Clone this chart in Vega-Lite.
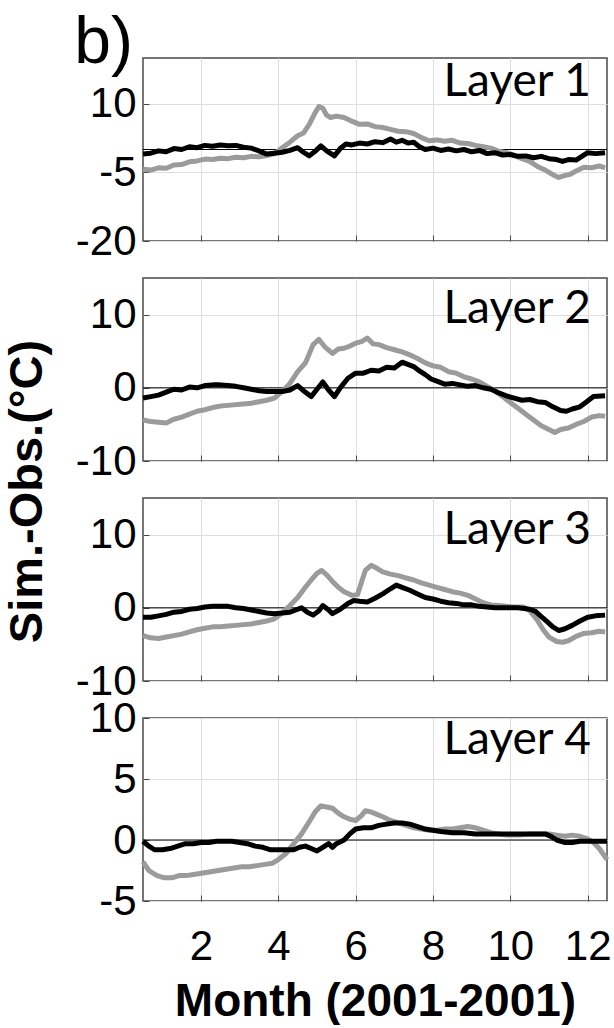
{
  "$schema": "https://vega.github.io/schema/vega-lite/v6.json",
  "padding": {"left": 2, "top": 10, "right": 0, "bottom": 0},
  "background": "white",
  "bounds": "flush",
  "title": {"text": "b)", "anchor": "start", "frame": "bounds", "font": "Liberation Sans", "fontSize": 66, "fontWeight": "normal", "color": "#000", "baseline": "alphabetic", "offset": -68, "dx": 72, "dy": 4},
  "datasets": {
    "d": [
      {"layer":1,"series":"black","month":0.5,"value":-1.0},{"layer":1,"series":"black","month":0.7,"value":-0.8},{"layer":1,"series":"black","month":0.9,"value":-0.3},{"layer":1,"series":"black","month":1.1,"value":-0.5},{"layer":1,"series":"black","month":1.3,"value":0.2},{"layer":1,"series":"black","month":1.5,"value":0.0},{"layer":1,"series":"black","month":1.7,"value":0.6},{"layer":1,"series":"black","month":1.9,"value":0.4},{"layer":1,"series":"black","month":2.1,"value":0.9},{"layer":1,"series":"black","month":2.3,"value":0.7},{"layer":1,"series":"black","month":2.5,"value":1.0},{"layer":1,"series":"black","month":2.7,"value":0.8},{"layer":1,"series":"black","month":2.9,"value":0.9},{"layer":1,"series":"black","month":3.1,"value":0.5},{"layer":1,"series":"black","month":3.3,"value":0.3},{"layer":1,"series":"black","month":3.5,"value":-0.3},{"layer":1,"series":"black","month":3.7,"value":-1.0},{"layer":1,"series":"black","month":3.9,"value":-0.8},{"layer":1,"series":"black","month":4.1,"value":-0.6},{"layer":1,"series":"black","month":4.3,"value":-0.2},{"layer":1,"series":"black","month":4.5,"value":0.4},{"layer":1,"series":"black","month":4.65,"value":-0.6},{"layer":1,"series":"black","month":4.8,"value":-1.4},{"layer":1,"series":"black","month":4.95,"value":-0.4},{"layer":1,"series":"black","month":5.1,"value":0.8},{"layer":1,"series":"black","month":5.25,"value":-0.3},{"layer":1,"series":"black","month":5.45,"value":-1.4},{"layer":1,"series":"black","month":5.6,"value":0.2},{"layer":1,"series":"black","month":5.75,"value":1.2},{"layer":1,"series":"black","month":5.9,"value":1.0},{"layer":1,"series":"black","month":6.1,"value":1.4},{"layer":1,"series":"black","month":6.3,"value":1.2},{"layer":1,"series":"black","month":6.5,"value":1.7},{"layer":1,"series":"black","month":6.7,"value":1.5},{"layer":1,"series":"black","month":6.9,"value":2.3},{"layer":1,"series":"black","month":7.05,"value":1.6},{"layer":1,"series":"black","month":7.2,"value":2.0},{"layer":1,"series":"black","month":7.35,"value":1.4},{"layer":1,"series":"black","month":7.5,"value":1.6},{"layer":1,"series":"black","month":7.65,"value":0.6},{"layer":1,"series":"black","month":7.8,"value":0.0},{"layer":1,"series":"black","month":8.0,"value":0.3},{"layer":1,"series":"black","month":8.2,"value":-0.2},{"layer":1,"series":"black","month":8.4,"value":0.1},{"layer":1,"series":"black","month":8.6,"value":-0.3},{"layer":1,"series":"black","month":8.8,"value":0.0},{"layer":1,"series":"black","month":9.0,"value":-0.5},{"layer":1,"series":"black","month":9.2,"value":-0.2},{"layer":1,"series":"black","month":9.4,"value":-0.9},{"layer":1,"series":"black","month":9.6,"value":-0.7},{"layer":1,"series":"black","month":9.8,"value":-1.2},{"layer":1,"series":"black","month":10.0,"value":-1.1},{"layer":1,"series":"black","month":10.2,"value":-1.5},{"layer":1,"series":"black","month":10.4,"value":-1.4},{"layer":1,"series":"black","month":10.6,"value":-1.8},{"layer":1,"series":"black","month":10.8,"value":-1.5},{"layer":1,"series":"black","month":11.0,"value":-2.0},{"layer":1,"series":"black","month":11.2,"value":-2.2},{"layer":1,"series":"black","month":11.35,"value":-2.6},{"layer":1,"series":"black","month":11.5,"value":-2.2},{"layer":1,"series":"black","month":11.7,"value":-2.3},{"layer":1,"series":"black","month":11.85,"value":-1.5},{"layer":1,"series":"black","month":12.0,"value":-0.7},{"layer":1,"series":"black","month":12.2,"value":-0.9},{"layer":1,"series":"black","month":12.45,"value":-0.7},
      {"layer":1,"series":"gray","month":0.5,"value":-4.3},{"layer":1,"series":"gray","month":0.7,"value":-4.5},{"layer":1,"series":"gray","month":0.9,"value":-4.0},{"layer":1,"series":"gray","month":1.1,"value":-4.1},{"layer":1,"series":"gray","month":1.3,"value":-3.4},{"layer":1,"series":"gray","month":1.5,"value":-3.3},{"layer":1,"series":"gray","month":1.7,"value":-2.7},{"layer":1,"series":"gray","month":1.9,"value":-2.5},{"layer":1,"series":"gray","month":2.1,"value":-2.1},{"layer":1,"series":"gray","month":2.3,"value":-2.2},{"layer":1,"series":"gray","month":2.5,"value":-1.9},{"layer":1,"series":"gray","month":2.7,"value":-2.0},{"layer":1,"series":"gray","month":2.9,"value":-1.7},{"layer":1,"series":"gray","month":3.1,"value":-1.8},{"layer":1,"series":"gray","month":3.3,"value":-1.5},{"layer":1,"series":"gray","month":3.5,"value":-1.6},{"layer":1,"series":"gray","month":3.7,"value":-1.3},{"layer":1,"series":"gray","month":3.9,"value":-0.9},{"layer":1,"series":"gray","month":4.1,"value":0.4},{"layer":1,"series":"gray","month":4.3,"value":1.6},{"layer":1,"series":"gray","month":4.5,"value":3.0},{"layer":1,"series":"gray","month":4.65,"value":3.6},{"layer":1,"series":"gray","month":4.8,"value":5.5},{"layer":1,"series":"gray","month":4.95,"value":8.0},{"layer":1,"series":"gray","month":5.05,"value":9.4},{"layer":1,"series":"gray","month":5.15,"value":9.0},{"layer":1,"series":"gray","month":5.25,"value":7.5},{"layer":1,"series":"gray","month":5.35,"value":7.0},{"layer":1,"series":"gray","month":5.5,"value":7.3},{"layer":1,"series":"gray","month":5.7,"value":7.0},{"layer":1,"series":"gray","month":5.9,"value":6.2},{"layer":1,"series":"gray","month":6.1,"value":5.5},{"layer":1,"series":"gray","month":6.3,"value":5.6},{"layer":1,"series":"gray","month":6.5,"value":5.0},{"layer":1,"series":"gray","month":6.7,"value":4.8},{"layer":1,"series":"gray","month":6.9,"value":4.4},{"layer":1,"series":"gray","month":7.1,"value":4.0},{"layer":1,"series":"gray","month":7.3,"value":3.9},{"layer":1,"series":"gray","month":7.5,"value":3.5},{"layer":1,"series":"gray","month":7.7,"value":2.6},{"layer":1,"series":"gray","month":7.9,"value":1.9},{"layer":1,"series":"gray","month":8.1,"value":2.1},{"layer":1,"series":"gray","month":8.3,"value":1.8},{"layer":1,"series":"gray","month":8.5,"value":2.0},{"layer":1,"series":"gray","month":8.7,"value":1.4},{"layer":1,"series":"gray","month":8.9,"value":1.3},{"layer":1,"series":"gray","month":9.1,"value":0.9},{"layer":1,"series":"gray","month":9.3,"value":0.6},{"layer":1,"series":"gray","month":9.5,"value":0.3},{"layer":1,"series":"gray","month":9.7,"value":-0.4},{"layer":1,"series":"gray","month":9.9,"value":-0.7},{"layer":1,"series":"gray","month":10.1,"value":-1.3},{"layer":1,"series":"gray","month":10.3,"value":-2.0},{"layer":1,"series":"gray","month":10.5,"value":-2.6},{"layer":1,"series":"gray","month":10.7,"value":-3.7},{"layer":1,"series":"gray","month":10.9,"value":-4.5},{"layer":1,"series":"gray","month":11.1,"value":-5.5},{"layer":1,"series":"gray","month":11.25,"value":-6.1},{"layer":1,"series":"gray","month":11.4,"value":-5.7},{"layer":1,"series":"gray","month":11.55,"value":-5.4},{"layer":1,"series":"gray","month":11.7,"value":-4.7},{"layer":1,"series":"gray","month":11.9,"value":-3.9},{"layer":1,"series":"gray","month":12.1,"value":-4.0},{"layer":1,"series":"gray","month":12.3,"value":-3.6},{"layer":1,"series":"gray","month":12.45,"value":-4.0},
      {"layer":2,"series":"black","month":0.5,"value":-1.4},{"layer":2,"series":"black","month":0.7,"value":-1.2},{"layer":2,"series":"black","month":0.9,"value":-1.0},{"layer":2,"series":"black","month":1.1,"value":-0.6},{"layer":2,"series":"black","month":1.3,"value":-0.2},{"layer":2,"series":"black","month":1.5,"value":-0.3},{"layer":2,"series":"black","month":1.7,"value":0.1},{"layer":2,"series":"black","month":1.9,"value":0.0},{"layer":2,"series":"black","month":2.1,"value":0.3},{"layer":2,"series":"black","month":2.3,"value":0.4},{"layer":2,"series":"black","month":2.5,"value":0.4},{"layer":2,"series":"black","month":2.7,"value":0.3},{"layer":2,"series":"black","month":2.9,"value":0.2},{"layer":2,"series":"black","month":3.1,"value":0.0},{"layer":2,"series":"black","month":3.3,"value":-0.2},{"layer":2,"series":"black","month":3.5,"value":-0.4},{"layer":2,"series":"black","month":3.7,"value":-0.5},{"layer":2,"series":"black","month":3.9,"value":-0.5},{"layer":2,"series":"black","month":4.1,"value":-0.5},{"layer":2,"series":"black","month":4.3,"value":-0.3},{"layer":2,"series":"black","month":4.5,"value":0.3},{"layer":2,"series":"black","month":4.65,"value":-0.4},{"layer":2,"series":"black","month":4.85,"value":-1.2},{"layer":2,"series":"black","month":5.0,"value":-0.2},{"layer":2,"series":"black","month":5.15,"value":0.8},{"layer":2,"series":"black","month":5.3,"value":-0.3},{"layer":2,"series":"black","month":5.45,"value":-1.2},{"layer":2,"series":"black","month":5.6,"value":0.0},{"layer":2,"series":"black","month":5.8,"value":1.3},{"layer":2,"series":"black","month":6.0,"value":2.0},{"layer":2,"series":"black","month":6.2,"value":2.0},{"layer":2,"series":"black","month":6.4,"value":2.4},{"layer":2,"series":"black","month":6.6,"value":2.3},{"layer":2,"series":"black","month":6.8,"value":2.8},{"layer":2,"series":"black","month":7.0,"value":2.7},{"layer":2,"series":"black","month":7.2,"value":3.5},{"layer":2,"series":"black","month":7.35,"value":3.2},{"layer":2,"series":"black","month":7.5,"value":2.9},{"layer":2,"series":"black","month":7.65,"value":2.3},{"layer":2,"series":"black","month":7.8,"value":1.8},{"layer":2,"series":"black","month":7.95,"value":1.2},{"layer":2,"series":"black","month":8.1,"value":0.9},{"layer":2,"series":"black","month":8.3,"value":0.5},{"layer":2,"series":"black","month":8.5,"value":0.6},{"layer":2,"series":"black","month":8.7,"value":0.4},{"layer":2,"series":"black","month":8.9,"value":0.2},{"layer":2,"series":"black","month":9.1,"value":0.3},{"layer":2,"series":"black","month":9.3,"value":0.0},{"layer":2,"series":"black","month":9.5,"value":-0.2},{"layer":2,"series":"black","month":9.7,"value":-0.7},{"layer":2,"series":"black","month":9.9,"value":-1.1},{"layer":2,"series":"black","month":10.1,"value":-1.4},{"layer":2,"series":"black","month":10.3,"value":-1.7},{"layer":2,"series":"black","month":10.5,"value":-1.6},{"layer":2,"series":"black","month":10.7,"value":-1.9},{"layer":2,"series":"black","month":10.9,"value":-2.0},{"layer":2,"series":"black","month":11.1,"value":-2.6},{"layer":2,"series":"black","month":11.3,"value":-3.1},{"layer":2,"series":"black","month":11.45,"value":-3.2},{"layer":2,"series":"black","month":11.6,"value":-2.9},{"layer":2,"series":"black","month":11.8,"value":-2.6},{"layer":2,"series":"black","month":12.0,"value":-1.8},{"layer":2,"series":"black","month":12.15,"value":-1.2},{"layer":2,"series":"black","month":12.45,"value":-1.1},
      {"layer":2,"series":"gray","month":0.5,"value":-4.4},{"layer":2,"series":"gray","month":0.7,"value":-4.6},{"layer":2,"series":"gray","month":0.9,"value":-4.7},{"layer":2,"series":"gray","month":1.1,"value":-4.8},{"layer":2,"series":"gray","month":1.3,"value":-4.3},{"layer":2,"series":"gray","month":1.5,"value":-4.0},{"layer":2,"series":"gray","month":1.7,"value":-3.6},{"layer":2,"series":"gray","month":1.9,"value":-3.2},{"layer":2,"series":"gray","month":2.1,"value":-3.0},{"layer":2,"series":"gray","month":2.3,"value":-2.7},{"layer":2,"series":"gray","month":2.5,"value":-2.5},{"layer":2,"series":"gray","month":2.7,"value":-2.4},{"layer":2,"series":"gray","month":2.9,"value":-2.3},{"layer":2,"series":"gray","month":3.1,"value":-2.2},{"layer":2,"series":"gray","month":3.3,"value":-2.1},{"layer":2,"series":"gray","month":3.5,"value":-1.9},{"layer":2,"series":"gray","month":3.7,"value":-1.7},{"layer":2,"series":"gray","month":3.9,"value":-1.4},{"layer":2,"series":"gray","month":4.1,"value":-0.5},{"layer":2,"series":"gray","month":4.3,"value":0.6},{"layer":2,"series":"gray","month":4.5,"value":2.2},{"layer":2,"series":"gray","month":4.7,"value":3.4},{"layer":2,"series":"gray","month":4.9,"value":5.9},{"layer":2,"series":"gray","month":5.05,"value":6.6},{"layer":2,"series":"gray","month":5.2,"value":5.6},{"layer":2,"series":"gray","month":5.4,"value":4.7},{"layer":2,"series":"gray","month":5.55,"value":5.3},{"layer":2,"series":"gray","month":5.7,"value":5.4},{"layer":2,"series":"gray","month":5.85,"value":5.7},{"layer":2,"series":"gray","month":6.0,"value":6.1},{"layer":2,"series":"gray","month":6.15,"value":6.3},{"layer":2,"series":"gray","month":6.3,"value":6.8},{"layer":2,"series":"gray","month":6.45,"value":6.0},{"layer":2,"series":"gray","month":6.6,"value":5.9},{"layer":2,"series":"gray","month":6.8,"value":5.5},{"layer":2,"series":"gray","month":7.0,"value":5.2},{"layer":2,"series":"gray","month":7.2,"value":4.9},{"layer":2,"series":"gray","month":7.4,"value":4.5},{"layer":2,"series":"gray","month":7.6,"value":4.0},{"layer":2,"series":"gray","month":7.8,"value":3.4},{"layer":2,"series":"gray","month":8.0,"value":3.0},{"layer":2,"series":"gray","month":8.2,"value":2.8},{"layer":2,"series":"gray","month":8.4,"value":2.2},{"layer":2,"series":"gray","month":8.6,"value":2.0},{"layer":2,"series":"gray","month":8.8,"value":1.5},{"layer":2,"series":"gray","month":9.0,"value":1.2},{"layer":2,"series":"gray","month":9.2,"value":0.8},{"layer":2,"series":"gray","month":9.4,"value":0.2},{"layer":2,"series":"gray","month":9.6,"value":-0.4},{"layer":2,"series":"gray","month":9.8,"value":-1.2},{"layer":2,"series":"gray","month":10.0,"value":-2.0},{"layer":2,"series":"gray","month":10.2,"value":-2.8},{"layer":2,"series":"gray","month":10.4,"value":-3.6},{"layer":2,"series":"gray","month":10.6,"value":-4.4},{"layer":2,"series":"gray","month":10.8,"value":-5.2},{"layer":2,"series":"gray","month":11.0,"value":-5.7},{"layer":2,"series":"gray","month":11.15,"value":-6.1},{"layer":2,"series":"gray","month":11.3,"value":-5.7},{"layer":2,"series":"gray","month":11.5,"value":-5.5},{"layer":2,"series":"gray","month":11.7,"value":-5.0},{"layer":2,"series":"gray","month":11.9,"value":-4.6},{"layer":2,"series":"gray","month":12.1,"value":-4.0},{"layer":2,"series":"gray","month":12.3,"value":-3.8},{"layer":2,"series":"gray","month":12.45,"value":-3.9},
      {"layer":3,"series":"black","month":0.5,"value":-1.3},{"layer":3,"series":"black","month":0.7,"value":-1.3},{"layer":3,"series":"black","month":0.9,"value":-1.1},{"layer":3,"series":"black","month":1.1,"value":-0.9},{"layer":3,"series":"black","month":1.3,"value":-0.6},{"layer":3,"series":"black","month":1.5,"value":-0.5},{"layer":3,"series":"black","month":1.7,"value":-0.2},{"layer":3,"series":"black","month":1.9,"value":-0.1},{"layer":3,"series":"black","month":2.1,"value":0.1},{"layer":3,"series":"black","month":2.3,"value":0.2},{"layer":3,"series":"black","month":2.5,"value":0.2},{"layer":3,"series":"black","month":2.7,"value":0.2},{"layer":3,"series":"black","month":2.9,"value":0.0},{"layer":3,"series":"black","month":3.1,"value":-0.1},{"layer":3,"series":"black","month":3.3,"value":-0.3},{"layer":3,"series":"black","month":3.5,"value":-0.5},{"layer":3,"series":"black","month":3.7,"value":-0.7},{"layer":3,"series":"black","month":3.9,"value":-0.8},{"layer":3,"series":"black","month":4.1,"value":-0.7},{"layer":3,"series":"black","month":4.3,"value":-0.6},{"layer":3,"series":"black","month":4.45,"value":-0.3},{"layer":3,"series":"black","month":4.6,"value":0.0},{"layer":3,"series":"black","month":4.75,"value":-0.6},{"layer":3,"series":"black","month":4.9,"value":-1.0},{"layer":3,"series":"black","month":5.05,"value":-0.4},{"layer":3,"series":"black","month":5.15,"value":0.3},{"layer":3,"series":"black","month":5.3,"value":-0.3},{"layer":3,"series":"black","month":5.4,"value":-0.8},{"layer":3,"series":"black","month":5.6,"value":-0.2},{"layer":3,"series":"black","month":5.8,"value":0.6},{"layer":3,"series":"black","month":5.95,"value":1.0},{"layer":3,"series":"black","month":6.1,"value":0.9},{"layer":3,"series":"black","month":6.3,"value":0.8},{"layer":3,"series":"black","month":6.5,"value":1.3},{"layer":3,"series":"black","month":6.7,"value":1.9},{"layer":3,"series":"black","month":6.9,"value":2.6},{"layer":3,"series":"black","month":7.05,"value":3.1},{"layer":3,"series":"black","month":7.2,"value":2.8},{"layer":3,"series":"black","month":7.4,"value":2.4},{"layer":3,"series":"black","month":7.6,"value":1.9},{"layer":3,"series":"black","month":7.8,"value":1.4},{"layer":3,"series":"black","month":8.0,"value":1.2},{"layer":3,"series":"black","month":8.2,"value":0.9},{"layer":3,"series":"black","month":8.4,"value":0.7},{"layer":3,"series":"black","month":8.6,"value":0.6},{"layer":3,"series":"black","month":8.8,"value":0.4},{"layer":3,"series":"black","month":9.0,"value":0.4},{"layer":3,"series":"black","month":9.2,"value":0.2},{"layer":3,"series":"black","month":9.4,"value":0.1},{"layer":3,"series":"black","month":9.6,"value":0.0},{"layer":3,"series":"black","month":9.8,"value":0.0},{"layer":3,"series":"black","month":10.0,"value":0.0},{"layer":3,"series":"black","month":10.2,"value":0.0},{"layer":3,"series":"black","month":10.35,"value":-0.1},{"layer":3,"series":"black","month":10.5,"value":-0.2},{"layer":3,"series":"black","month":10.65,"value":-0.5},{"layer":3,"series":"black","month":10.8,"value":-1.2},{"layer":3,"series":"black","month":10.95,"value":-1.9},{"layer":3,"series":"black","month":11.1,"value":-2.6},{"layer":3,"series":"black","month":11.25,"value":-3.1},{"layer":3,"series":"black","month":11.4,"value":-2.9},{"layer":3,"series":"black","month":11.6,"value":-2.4},{"layer":3,"series":"black","month":11.8,"value":-1.8},{"layer":3,"series":"black","month":12.0,"value":-1.3},{"layer":3,"series":"black","month":12.2,"value":-1.1},{"layer":3,"series":"black","month":12.45,"value":-1.0},
      {"layer":3,"series":"gray","month":0.5,"value":-3.8},{"layer":3,"series":"gray","month":0.7,"value":-4.1},{"layer":3,"series":"gray","month":0.9,"value":-4.2},{"layer":3,"series":"gray","month":1.1,"value":-4.0},{"layer":3,"series":"gray","month":1.3,"value":-3.8},{"layer":3,"series":"gray","month":1.5,"value":-3.6},{"layer":3,"series":"gray","month":1.7,"value":-3.3},{"layer":3,"series":"gray","month":1.9,"value":-3.0},{"layer":3,"series":"gray","month":2.1,"value":-2.8},{"layer":3,"series":"gray","month":2.3,"value":-2.6},{"layer":3,"series":"gray","month":2.5,"value":-2.6},{"layer":3,"series":"gray","month":2.7,"value":-2.5},{"layer":3,"series":"gray","month":2.9,"value":-2.4},{"layer":3,"series":"gray","month":3.1,"value":-2.3},{"layer":3,"series":"gray","month":3.3,"value":-2.2},{"layer":3,"series":"gray","month":3.5,"value":-2.0},{"layer":3,"series":"gray","month":3.7,"value":-1.8},{"layer":3,"series":"gray","month":3.9,"value":-1.5},{"layer":3,"series":"gray","month":4.1,"value":-0.7},{"layer":3,"series":"gray","month":4.3,"value":0.3},{"layer":3,"series":"gray","month":4.5,"value":1.4},{"layer":3,"series":"gray","month":4.7,"value":2.8},{"layer":3,"series":"gray","month":4.85,"value":3.8},{"layer":3,"series":"gray","month":5.0,"value":4.7},{"layer":3,"series":"gray","month":5.12,"value":5.1},{"layer":3,"series":"gray","month":5.25,"value":4.5},{"layer":3,"series":"gray","month":5.4,"value":3.6},{"layer":3,"series":"gray","month":5.55,"value":2.8},{"layer":3,"series":"gray","month":5.7,"value":2.2},{"layer":3,"series":"gray","month":5.9,"value":1.7},{"layer":3,"series":"gray","month":6.05,"value":1.8},{"layer":3,"series":"gray","month":6.15,"value":3.5},{"layer":3,"series":"gray","month":6.25,"value":5.1},{"layer":3,"series":"gray","month":6.4,"value":5.8},{"layer":3,"series":"gray","month":6.55,"value":5.4},{"layer":3,"series":"gray","month":6.7,"value":4.9},{"layer":3,"series":"gray","month":6.9,"value":4.6},{"layer":3,"series":"gray","month":7.1,"value":4.4},{"layer":3,"series":"gray","month":7.3,"value":4.1},{"layer":3,"series":"gray","month":7.5,"value":3.8},{"layer":3,"series":"gray","month":7.7,"value":3.4},{"layer":3,"series":"gray","month":7.9,"value":3.1},{"layer":3,"series":"gray","month":8.1,"value":2.8},{"layer":3,"series":"gray","month":8.3,"value":2.5},{"layer":3,"series":"gray","month":8.5,"value":2.2},{"layer":3,"series":"gray","month":8.7,"value":2.0},{"layer":3,"series":"gray","month":8.9,"value":1.7},{"layer":3,"series":"gray","month":9.1,"value":1.2},{"layer":3,"series":"gray","month":9.3,"value":0.7},{"layer":3,"series":"gray","month":9.5,"value":0.4},{"layer":3,"series":"gray","month":9.7,"value":0.3},{"layer":3,"series":"gray","month":9.9,"value":0.2},{"layer":3,"series":"gray","month":10.1,"value":0.1},{"layer":3,"series":"gray","month":10.35,"value":0.1},{"layer":3,"series":"gray","month":10.5,"value":-0.4},{"layer":3,"series":"gray","month":10.7,"value":-1.7},{"layer":3,"series":"gray","month":10.85,"value":-3.0},{"layer":3,"series":"gray","month":11.0,"value":-4.0},{"layer":3,"series":"gray","month":11.2,"value":-4.6},{"layer":3,"series":"gray","month":11.35,"value":-4.7},{"layer":3,"series":"gray","month":11.5,"value":-4.5},{"layer":3,"series":"gray","month":11.7,"value":-3.9},{"layer":3,"series":"gray","month":11.9,"value":-3.5},{"layer":3,"series":"gray","month":12.1,"value":-3.4},{"layer":3,"series":"gray","month":12.3,"value":-3.2},{"layer":3,"series":"gray","month":12.45,"value":-3.3},
      {"layer":4,"series":"black","month":0.5,"value":-0.1},{"layer":4,"series":"black","month":0.65,"value":-0.5},{"layer":4,"series":"black","month":0.8,"value":-0.8},{"layer":4,"series":"black","month":1.0,"value":-0.8},{"layer":4,"series":"black","month":1.2,"value":-0.7},{"layer":4,"series":"black","month":1.4,"value":-0.5},{"layer":4,"series":"black","month":1.6,"value":-0.3},{"layer":4,"series":"black","month":1.8,"value":-0.3},{"layer":4,"series":"black","month":2.0,"value":-0.2},{"layer":4,"series":"black","month":2.2,"value":-0.2},{"layer":4,"series":"black","month":2.4,"value":-0.1},{"layer":4,"series":"black","month":2.6,"value":-0.1},{"layer":4,"series":"black","month":2.8,"value":-0.1},{"layer":4,"series":"black","month":3.0,"value":-0.2},{"layer":4,"series":"black","month":3.2,"value":-0.3},{"layer":4,"series":"black","month":3.4,"value":-0.5},{"layer":4,"series":"black","month":3.6,"value":-0.6},{"layer":4,"series":"black","month":3.8,"value":-0.8},{"layer":4,"series":"black","month":4.0,"value":-0.8},{"layer":4,"series":"black","month":4.2,"value":-0.8},{"layer":4,"series":"black","month":4.4,"value":-0.8},{"layer":4,"series":"black","month":4.55,"value":-0.6},{"layer":4,"series":"black","month":4.7,"value":-0.5},{"layer":4,"series":"black","month":4.85,"value":-0.7},{"layer":4,"series":"black","month":5.0,"value":-0.9},{"layer":4,"series":"black","month":5.15,"value":-0.6},{"layer":4,"series":"black","month":5.3,"value":-0.3},{"layer":4,"series":"black","month":5.4,"value":-0.6},{"layer":4,"series":"black","month":5.5,"value":-0.3},{"layer":4,"series":"black","month":5.7,"value":0.0},{"layer":4,"series":"black","month":5.85,"value":0.5},{"layer":4,"series":"black","month":6.0,"value":0.9},{"layer":4,"series":"black","month":6.2,"value":1.0},{"layer":4,"series":"black","month":6.4,"value":1.0},{"layer":4,"series":"black","month":6.6,"value":1.2},{"layer":4,"series":"black","month":6.8,"value":1.3},{"layer":4,"series":"black","month":7.0,"value":1.4},{"layer":4,"series":"black","month":7.2,"value":1.4},{"layer":4,"series":"black","month":7.4,"value":1.3},{"layer":4,"series":"black","month":7.6,"value":1.1},{"layer":4,"series":"black","month":7.8,"value":0.9},{"layer":4,"series":"black","month":8.0,"value":0.8},{"layer":4,"series":"black","month":8.2,"value":0.7},{"layer":4,"series":"black","month":8.5,"value":0.6},{"layer":4,"series":"black","month":8.8,"value":0.6},{"layer":4,"series":"black","month":9.1,"value":0.5},{"layer":4,"series":"black","month":9.4,"value":0.5},{"layer":4,"series":"black","month":9.7,"value":0.5},{"layer":4,"series":"black","month":10.0,"value":0.5},{"layer":4,"series":"black","month":10.3,"value":0.5},{"layer":4,"series":"black","month":10.6,"value":0.5},{"layer":4,"series":"black","month":10.9,"value":0.5},{"layer":4,"series":"black","month":11.05,"value":0.3},{"layer":4,"series":"black","month":11.2,"value":0.0},{"layer":4,"series":"black","month":11.4,"value":-0.2},{"layer":4,"series":"black","month":11.6,"value":-0.2},{"layer":4,"series":"black","month":11.8,"value":-0.1},{"layer":4,"series":"black","month":12.0,"value":-0.1},{"layer":4,"series":"black","month":12.2,"value":-0.1},{"layer":4,"series":"black","month":12.5,"value":-0.1},
      {"layer":4,"series":"gray","month":0.5,"value":-1.8},{"layer":4,"series":"gray","month":0.65,"value":-2.5},{"layer":4,"series":"gray","month":0.85,"value":-2.9},{"layer":4,"series":"gray","month":1.05,"value":-3.1},{"layer":4,"series":"gray","month":1.25,"value":-3.1},{"layer":4,"series":"gray","month":1.45,"value":-2.9},{"layer":4,"series":"gray","month":1.65,"value":-2.9},{"layer":4,"series":"gray","month":1.85,"value":-2.8},{"layer":4,"series":"gray","month":2.05,"value":-2.7},{"layer":4,"series":"gray","month":2.25,"value":-2.6},{"layer":4,"series":"gray","month":2.45,"value":-2.5},{"layer":4,"series":"gray","month":2.65,"value":-2.4},{"layer":4,"series":"gray","month":2.85,"value":-2.3},{"layer":4,"series":"gray","month":3.05,"value":-2.2},{"layer":4,"series":"gray","month":3.25,"value":-2.2},{"layer":4,"series":"gray","month":3.45,"value":-2.1},{"layer":4,"series":"gray","month":3.65,"value":-2.0},{"layer":4,"series":"gray","month":3.85,"value":-1.9},{"layer":4,"series":"gray","month":4.0,"value":-1.6},{"layer":4,"series":"gray","month":4.2,"value":-1.1},{"layer":4,"series":"gray","month":4.4,"value":-0.3},{"layer":4,"series":"gray","month":4.6,"value":0.5},{"layer":4,"series":"gray","month":4.8,"value":1.5},{"layer":4,"series":"gray","month":4.95,"value":2.3},{"layer":4,"series":"gray","month":5.1,"value":2.8},{"layer":4,"series":"gray","month":5.25,"value":2.7},{"layer":4,"series":"gray","month":5.4,"value":2.6},{"layer":4,"series":"gray","month":5.55,"value":2.2},{"layer":4,"series":"gray","month":5.7,"value":1.9},{"layer":4,"series":"gray","month":5.85,"value":1.7},{"layer":4,"series":"gray","month":6.0,"value":1.6},{"layer":4,"series":"gray","month":6.15,"value":2.0},{"layer":4,"series":"gray","month":6.25,"value":2.4},{"layer":4,"series":"gray","month":6.4,"value":2.3},{"layer":4,"series":"gray","month":6.55,"value":2.1},{"layer":4,"series":"gray","month":6.7,"value":1.9},{"layer":4,"series":"gray","month":6.9,"value":1.6},{"layer":4,"series":"gray","month":7.1,"value":1.4},{"layer":4,"series":"gray","month":7.3,"value":1.2},{"layer":4,"series":"gray","month":7.5,"value":1.0},{"layer":4,"series":"gray","month":7.7,"value":0.9},{"layer":4,"series":"gray","month":7.9,"value":0.8},{"layer":4,"series":"gray","month":8.1,"value":0.8},{"layer":4,"series":"gray","month":8.3,"value":0.9},{"layer":4,"series":"gray","month":8.5,"value":0.9},{"layer":4,"series":"gray","month":8.7,"value":1.0},{"layer":4,"series":"gray","month":8.9,"value":1.1},{"layer":4,"series":"gray","month":9.1,"value":1.0},{"layer":4,"series":"gray","month":9.3,"value":0.8},{"layer":4,"series":"gray","month":9.5,"value":0.6},{"layer":4,"series":"gray","month":9.7,"value":0.5},{"layer":4,"series":"gray","month":9.9,"value":0.4},{"layer":4,"series":"gray","month":10.2,"value":0.4},{"layer":4,"series":"gray","month":10.5,"value":0.5},{"layer":4,"series":"gray","month":10.8,"value":0.5},{"layer":4,"series":"gray","month":11.0,"value":0.5},{"layer":4,"series":"gray","month":11.2,"value":0.4},{"layer":4,"series":"gray","month":11.4,"value":0.3},{"layer":4,"series":"gray","month":11.6,"value":0.4},{"layer":4,"series":"gray","month":11.8,"value":0.3},{"layer":4,"series":"gray","month":12.0,"value":0.1},{"layer":4,"series":"gray","month":12.15,"value":-0.2},{"layer":4,"series":"gray","month":12.3,"value":-0.7},{"layer":4,"series":"gray","month":12.5,"value":-1.6}
    ]
  },
  "vconcat": [
    {
      "width": 464, "height": 183,
      "layer": [
        {"data": {"values": [{}]}, "mark": {"type": "rule", "color": "#000", "strokeWidth": 1}, "encoding": {"y": {"datum": 0, "type": "quantitative"}}},
        {"data": {"name": "d"}, "transform": [{"filter": "datum.layer == 1 && datum.series == 'gray'"}], "mark": {"type": "line", "color": "#9b9b9b", "strokeWidth": 5, "strokeJoin": "round"},
         "encoding": {"x": {"field": "month", "type": "quantitative", "scale": {"domain": [0.5, 12.5], "nice": false, "zero": false}, "axis": {"values": [2,4,6,8,10,12], "labels": false, "title": null}},
                      "y": {"field": "value", "type": "quantitative", "scale": {"domain": [-20, 20], "nice": false, "zero": false}, "axis": {"values": [-20,-5,10], "title": null}}}},
        {"data": {"name": "d"}, "transform": [{"filter": "datum.layer == 1 && datum.series == 'black'"}], "mark": {"type": "line", "color": "#000000", "strokeWidth": 5, "strokeJoin": "round"},
         "encoding": {"x": {"field": "month", "type": "quantitative", "scale": {"domain": [0.5, 12.5], "nice": false, "zero": false}, "axis": {"values": [2,4,6,8,10,12], "labels": false, "title": null}},
                      "y": {"field": "value", "type": "quantitative", "scale": {"domain": [-20, 20], "nice": false, "zero": false}, "axis": {"values": [-20,-5,10], "title": null}}}},
        {"data": {"values": [{"label": "Layer 1"}]}, "mark": {"type": "text", "align": "right", "baseline": "alphabetic", "font": "Lato", "fontSize": 46, "color": "#000", "dx": -16}, "encoding": {"x": {"datum": 12.5, "type": "quantitative"}, "y": {"datum": 11.7, "type": "quantitative"}, "text": {"field": "label"}}}
      ]
    },
    {
      "width": 464, "height": 183,
      "layer": [
        {"data": {"values": [{}]}, "mark": {"type": "rule", "color": "#000", "strokeWidth": 1}, "encoding": {"y": {"datum": 0, "type": "quantitative"}}},
        {"data": {"name": "d"}, "transform": [{"filter": "datum.layer == 2 && datum.series == 'gray'"}], "mark": {"type": "line", "color": "#9b9b9b", "strokeWidth": 5, "strokeJoin": "round"},
         "encoding": {"x": {"field": "month", "type": "quantitative", "scale": {"domain": [0.5, 12.5], "nice": false, "zero": false}, "axis": {"values": [2,4,6,8,10,12], "labels": false, "title": null}},
                      "y": {"field": "value", "type": "quantitative", "scale": {"domain": [-10, 15], "nice": false, "zero": false}, "axis": {"values": [-10,0,10], "title": null}}}},
        {"data": {"name": "d"}, "transform": [{"filter": "datum.layer == 2 && datum.series == 'black'"}], "mark": {"type": "line", "color": "#000000", "strokeWidth": 5, "strokeJoin": "round"},
         "encoding": {"x": {"field": "month", "type": "quantitative", "scale": {"domain": [0.5, 12.5], "nice": false, "zero": false}, "axis": {"values": [2,4,6,8,10,12], "labels": false, "title": null}},
                      "y": {"field": "value", "type": "quantitative", "scale": {"domain": [-10, 15], "nice": false, "zero": false}, "axis": {"values": [-10,0,10], "title": null}}}},
        {"data": {"values": [{"label": "Layer 2"}]}, "mark": {"type": "text", "align": "right", "baseline": "alphabetic", "font": "Lato", "fontSize": 46, "color": "#000", "dx": -16}, "encoding": {"x": {"datum": 12.5, "type": "quantitative"}, "y": {"datum": 8.9, "type": "quantitative"}, "text": {"field": "label"}}}
      ]
    },
    {
      "width": 464, "height": 183,
      "layer": [
        {"data": {"values": [{}]}, "mark": {"type": "rule", "color": "#000", "strokeWidth": 1}, "encoding": {"y": {"datum": 0, "type": "quantitative"}}},
        {"data": {"name": "d"}, "transform": [{"filter": "datum.layer == 3 && datum.series == 'gray'"}], "mark": {"type": "line", "color": "#9b9b9b", "strokeWidth": 5, "strokeJoin": "round"},
         "encoding": {"x": {"field": "month", "type": "quantitative", "scale": {"domain": [0.5, 12.5], "nice": false, "zero": false}, "axis": {"values": [2,4,6,8,10,12], "labels": false, "title": null}},
                      "y": {"field": "value", "type": "quantitative", "scale": {"domain": [-10, 15], "nice": false, "zero": false}, "axis": {"values": [-10,0,10], "title": "Sim.-Obs.(°C)", "titleX": -102, "titleY": -7, "titleAngle": -90, "titleAlign": "center", "titleBaseline": "alphabetic", "titleFontSize": 47}}}},
        {"data": {"name": "d"}, "transform": [{"filter": "datum.layer == 3 && datum.series == 'black'"}], "mark": {"type": "line", "color": "#000000", "strokeWidth": 5, "strokeJoin": "round"},
         "encoding": {"x": {"field": "month", "type": "quantitative", "scale": {"domain": [0.5, 12.5], "nice": false, "zero": false}, "axis": {"values": [2,4,6,8,10,12], "labels": false, "title": null}},
                      "y": {"field": "value", "type": "quantitative", "scale": {"domain": [-10, 15], "nice": false, "zero": false}, "axis": {"values": [-10,0,10], "title": "Sim.-Obs.(°C)", "titleX": -102, "titleY": -7, "titleAngle": -90, "titleAlign": "center", "titleBaseline": "alphabetic", "titleFontSize": 47}}}},
        {"data": {"values": [{"label": "Layer 3"}]}, "mark": {"type": "text", "align": "right", "baseline": "alphabetic", "font": "Lato", "fontSize": 46, "color": "#000", "dx": -16}, "encoding": {"x": {"datum": 12.5, "type": "quantitative"}, "y": {"datum": 8.7, "type": "quantitative"}, "text": {"field": "label"}}}
      ]
    },
    {
      "width": 464, "height": 183,
      "layer": [
        {"data": {"values": [{}]}, "mark": {"type": "rule", "color": "#000", "strokeWidth": 1}, "encoding": {"y": {"datum": 0, "type": "quantitative"}}},
        {"data": {"name": "d"}, "transform": [{"filter": "datum.layer == 4 && datum.series == 'gray'"}], "mark": {"type": "line", "color": "#9b9b9b", "strokeWidth": 5, "strokeJoin": "round"},
         "encoding": {"x": {"field": "month", "type": "quantitative", "scale": {"domain": [0.5, 12.5], "nice": false, "zero": false}, "axis": {"values": [2,4,6,8,10,12], "title": "Month (2001-2001)", "labelPadding": 31, "titleY": 114, "titleBaseline": "alphabetic"}},
                      "y": {"field": "value", "type": "quantitative", "scale": {"domain": [-5, 10], "nice": false, "zero": false}, "axis": {"values": [-5,0,5,10], "title": null}}}},
        {"data": {"name": "d"}, "transform": [{"filter": "datum.layer == 4 && datum.series == 'black'"}], "mark": {"type": "line", "color": "#000000", "strokeWidth": 5, "strokeJoin": "round"},
         "encoding": {"x": {"field": "month", "type": "quantitative", "scale": {"domain": [0.5, 12.5], "nice": false, "zero": false}, "axis": {"values": [2,4,6,8,10,12], "title": "Month (2001-2001)", "labelPadding": 31, "titleY": 114, "titleBaseline": "alphabetic"}},
                      "y": {"field": "value", "type": "quantitative", "scale": {"domain": [-5, 10], "nice": false, "zero": false}, "axis": {"values": [-5,0,5,10], "title": null}}}},
        {"data": {"values": [{"label": "Layer 4"}]}, "mark": {"type": "text", "align": "right", "baseline": "alphabetic", "font": "Lato", "fontSize": 46, "color": "#000", "dx": -16}, "encoding": {"x": {"datum": 12.5, "type": "quantitative"}, "y": {"datum": 7.05, "type": "quantitative"}, "text": {"field": "label"}}}
      ]
    }
  ],
  "spacing": 37,
  "config": {
    "view": {"stroke": "#4a4a4a", "strokeWidth": 1.5},
    "axis": {"domain": false, "grid": true, "gridColor": "#dedede", "gridWidth": 1, "ticks": true, "tickSize": -6, "tickColor": "#4a4a4a", "tickWidth": 1, "labelFont": "Liberation Sans", "labelFontSize": 42, "labelColor": "#000", "labelPadding": 13, "labelFlush": false, "labelOverlap": false, "labelExpr": "'' + datum.value", "titleFont": "Liberation Sans", "titleFontWeight": "bold", "titleFontSize": 46, "titleColor": "#000", "titlePadding": 14}
  }
}
